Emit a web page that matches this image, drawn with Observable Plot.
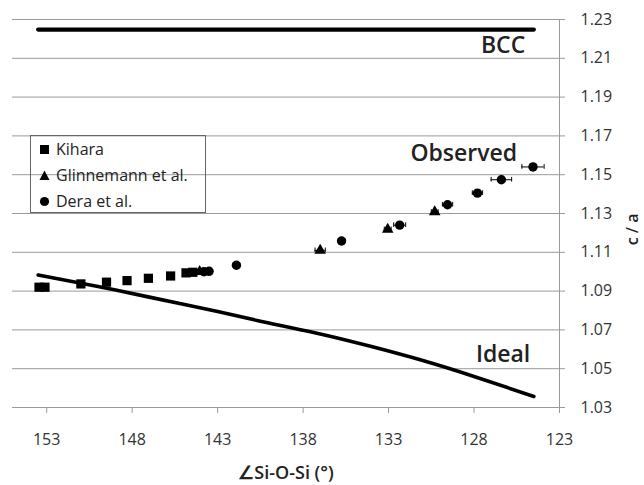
<!DOCTYPE html>
<html>
<head>
<meta charset="utf-8">
<script src="https://cdn.jsdelivr.net/npm/d3@7"></script>
<script src="https://cdn.jsdelivr.net/npm/@observablehq/plot@0.6"></script>
<style>
  body { margin: 0; background: #fff; }
  #wrap { position: relative; width: 644px; height: 485px; }
  #legend { position: absolute; left: 30px; top: 135px; width: 174px; height: 76px;
            border: 1px solid #666; font-family: "Open Sans", sans-serif; font-size: 16px; color: #222; }
  .row { position: absolute; left: 8px; height: 26px; display: flex; align-items: center; white-space: nowrap; }
  .row svg { margin-right: 6px; }
</style>
</head>
<body>
<div id="wrap">
  <div id="chart"></div>
  <div id="legend"></div>
</div>
<script>
// ---- data ----
const kiharaX = [153.45, 153.1, 151.0, 149.5, 148.3, 147.05, 145.75, 144.85, 144.45];
const kiharaY = [1.0920, 1.0920, 1.0937, 1.0946, 1.0954, 1.0966, 1.0978, 1.0994, 1.0997];

const glinnX = [144.05, 137.0, 133.05, 130.3];
const glinnY = [1.1000, 1.1110, 1.1218, 1.1308];
const glinnErr = [0.15, 0.3, 0.2, 0.2];

const deraX = [143.8, 143.5, 141.9, 135.75, 132.35, 129.55, 127.8, 126.4, 124.55];
const deraY = [1.1000, 1.1002, 1.1033, 1.1158, 1.1240, 1.1345, 1.1405, 1.1474, 1.1540];
const deraErr = [0.15, 0.15, 0.2, 0.2, 0.35, 0.3, 0.3, 0.6, 0.65];

const idealX = [153.5, 150, 147, 143, 140, 137, 134, 131, 128, 124.5];
const idealY = [1.0983, 1.0924, 1.0869, 1.0795, 1.0735, 1.0679, 1.0614, 1.0542, 1.0460, 1.0357];

const bccX = [153.5, 124.5];
const bccY = [1.2248, 1.2248];

const xTicks = [153, 148, 143, 138, 133, 128, 123];
const yTicks = [1.03, 1.05, 1.07, 1.09, 1.11, 1.13, 1.15, 1.17, 1.19, 1.21, 1.23];

const labelText = ["BCC", "Observed", "Ideal"];
const labelX = [126.3, 128.6, 126.3];
const labelY = [1.2125, 1.1573, 1.0537];

const seriesNames = ["Kihara", "Glinnemann et al.", "Dera et al."];

// ---- tables ----
const kihara = kiharaX.map((x, i) => ({x, y: kiharaY[i]}));
const glinn = glinnX.map((x, i) => ({x, y: glinnY[i], e: glinnErr[i]}));
const dera = deraX.map((x, i) => ({x, y: deraY[i], e: deraErr[i]}));
const ideal = idealX.map((x, i) => ({x, y: idealY[i]}));
const bcc = bccX.map((x, i) => ({x, y: bccY[i]}));
const labels = labelText.map((t, i) => ({t, x: labelX[i], y: labelY[i]}));
const errs = [...glinn, ...dera];
const cap = 0.0012;

const chart = Plot.plot({
  width: 644,
  height: 485,
  marginTop: 19,
  marginBottom: 78,
  marginLeft: 12,
  marginRight: 85,
  style: {fontFamily: "Open Sans, sans-serif", fontSize: "16px", background: "#fff", color: "#333"},
  x: {domain: [155, 123]},
  y: {domain: [1.03, 1.23]},
  marks: [
    Plot.gridY(yTicks, {stroke: "#9a9a9a", strokeOpacity: 1, strokeWidth: 1}),
    Plot.ruleX([123], {stroke: "#9a9a9a", strokeWidth: 1}),
    Plot.axisY({anchor: "right", ticks: yTicks, tickFormat: d3.format(".2f"), tickSize: 5,
                tickPadding: 16, stroke: "#9a9a9a", fill: "#333", label: null}),
    Plot.axisX({anchor: "bottom", ticks: xTicks, tickFormat: d => String(d), tickSize: 6,
                tickPadding: 20, stroke: "#9a9a9a", fill: "#333", label: null}),
    Plot.line(bcc, {x: "x", y: "y", stroke: "black", strokeWidth: 4.2, strokeLinecap: "round"}),
    Plot.line(ideal, {x: "x", y: "y", stroke: "black", strokeWidth: 3.6, curve: "natural", strokeLinecap: "round"}),
    // error bars
    Plot.ruleY(errs, {y: "y", x1: d => d.x - d.e, x2: d => d.x + d.e, stroke: "black", strokeWidth: 1}),
    Plot.ruleX(errs, {x: d => d.x - d.e, y1: d => d.y - cap, y2: d => d.y + cap, stroke: "black", strokeWidth: 1}),
    Plot.ruleX(errs, {x: d => d.x + d.e, y1: d => d.y - cap, y2: d => d.y + cap, stroke: "black", strokeWidth: 1}),
    Plot.dot(kihara, {x: "x", y: "y", symbol: "square", r: 5.2, fill: "black"}),
    Plot.dot(glinn, {x: "x", y: "y", symbol: "triangle", r: 4.3, fill: "black"}),
    Plot.dot(dera, {x: "x", y: "y", symbol: "circle", r: 4.7, fill: "black"}),
    Plot.text(labels, {x: "x", y: "y", text: "t", fontSize: 23, fontWeight: 600,
                       lineAnchor: "bottom", textAnchor: "middle", fill: "#222"}),
    Plot.text(["\u2220Si-O-Si (\u00b0)"], {frameAnchor: "bottom", text: d => d, dy: 66,
                       lineAnchor: "middle", fontSize: 18, fontWeight: 600, fill: "#222"}),
    Plot.text(["c / a"], {frameAnchor: "right", text: d => d, dx: 73, rotate: -90,
                       lineAnchor: "middle", fontSize: 16, fontWeight: 600, fill: "#222"})
  ]
});
document.getElementById("chart").appendChild(chart);

// ---- legend ----
const symbols = [
  '<svg width="11" height="11"><rect x="1" y="1" width="9" height="9" fill="black"/></svg>',
  '<svg width="11" height="11"><polygon points="5.5,0.5 10.5,10 0.5,10" fill="black"/></svg>',
  '<svg width="11" height="11"><circle cx="5.5" cy="5.5" r="4.6" fill="black"/></svg>'
];
const legend = document.getElementById("legend");
seriesNames.forEach((name, i) => {
  const row = document.createElement("div");
  row.className = "row";
  row.style.top = (0 + i * 26) + "px";
  row.innerHTML = symbols[i] + "<span>" + name + "</span>";
  legend.appendChild(row);
});
</script>
</body>
</html>
